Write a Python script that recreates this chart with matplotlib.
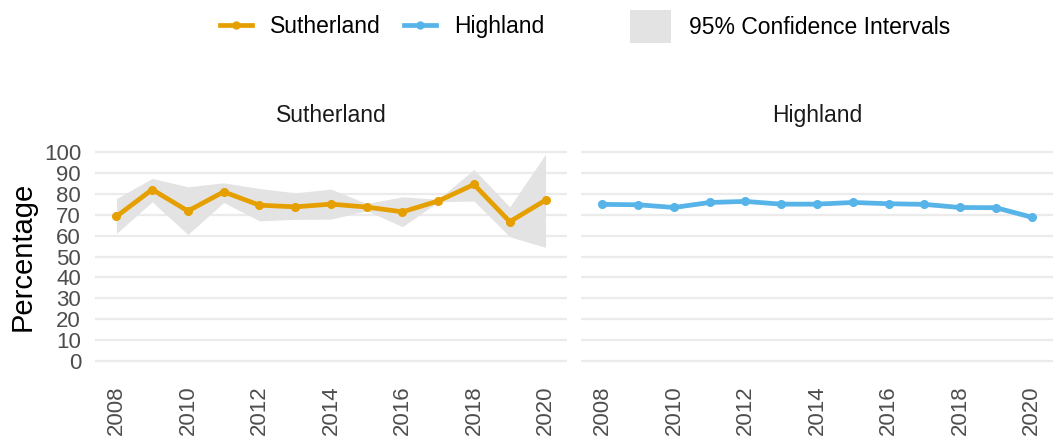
import numpy as np
import matplotlib.pyplot as plt
from matplotlib.lines import Line2D
from matplotlib.patches import Patch

plt.rcParams['font.family'] = ['Liberation Sans', 'DejaVu Sans']

years = list(range(2008, 2021))

suth_value = [69.2, 82.1, 71.8, 81.0, 74.6, 73.8, 75.1, 73.7, 71.4, 76.6, 84.5, 66.7, 77.0]
suth_lower = [61.1, 76.2, 60.6, 75.9, 67.1, 67.8, 67.9, 72.0, 64.3, 76.2, 76.6, 59.5, 54.4]
suth_upper = [77.7, 87.4, 83.4, 85.3, 82.6, 80.5, 82.3, 75.4, 78.6, 77.4, 91.7, 73.8, 99.0]

high_value = [75.0, 74.8, 73.5, 75.9, 76.4, 75.1, 75.1, 75.9, 75.3, 75.0, 73.5, 73.4, 68.9]
high_lower = [74.2, 74.0, 72.7, 75.1, 75.6, 74.3, 74.3, 75.1, 74.5, 74.2, 72.6, 72.4, 67.7]
high_upper = [75.8, 75.6, 74.3, 76.7, 77.2, 75.9, 75.9, 76.7, 76.1, 75.8, 74.4, 74.4, 70.1]

areas = ['Sutherland', 'Highland']
colours = {'Sutherland': '#E69F00', 'Highland': '#56B4E9'}
series = {'Sutherland': (suth_value, suth_lower, suth_upper),
          'Highland': (high_value, high_lower, high_upper)}

fig = plt.figure(figsize=(10.55, 4.42), dpi=100)
ax_left = fig.add_axes([0.090, 0.1595, 0.4474, 0.520])
ax_right = fig.add_axes([0.5507, 0.1595, 0.4474, 0.520])

for ax, area in zip([ax_left, ax_right], areas):
    val, lo, up = series[area]
    ax.fill_between(years, lo, up, color='#e3e3e3', linewidth=0, zorder=1)
    ax.plot(years, val, color=colours[area], lw=3.4, marker='o', ms=5.5, zorder=3)
    ax.set_xlim(2007.4, 2020.6)
    ax.set_ylim(-5, 105)
    ax.set_yticks(np.arange(0, 101, 10))
    ax.set_xticks(range(2008, 2021, 2))
    ax.grid(axis='y', color='#ebebeb', lw=1.6, zorder=0)
    ax.set_axisbelow(True)
    for s in ax.spines.values():
        s.set_visible(False)
    ax.tick_params(length=0, labelsize=16, labelcolor='#4d4d4d', pad=10)
    ax.tick_params(axis='x', labelrotation=90)
    ax.set_title(area, fontsize=16.5, color='#1a1a1a', pad=14)

ax_right.tick_params(axis='y', labelleft=False)
ax_left.set_ylabel('Percentage', fontsize=21, color='black', labelpad=5)

line_handles = [Line2D([0], [0], color=colours[a], lw=3.4, marker='o', ms=5) for a in areas]
leg1 = fig.legend(line_handles, areas, loc='center', bbox_to_anchor=(0.362, 0.94),
                  ncol=2, frameon=False, fontsize=16.5, handlelength=1.4,
                  columnspacing=1.0, handletextpad=0.8)
leg2 = fig.legend([Patch(facecolor='#e3e3e3', edgecolor='none')], ['95% Confidence Intervals'],
                  loc='center', bbox_to_anchor=(0.749, 0.94), frameon=False, fontsize=16.5,
                  handlelength=1.8, handleheight=1.8, handletextpad=0.8)

fig.savefig('out.png', dpi=100)
